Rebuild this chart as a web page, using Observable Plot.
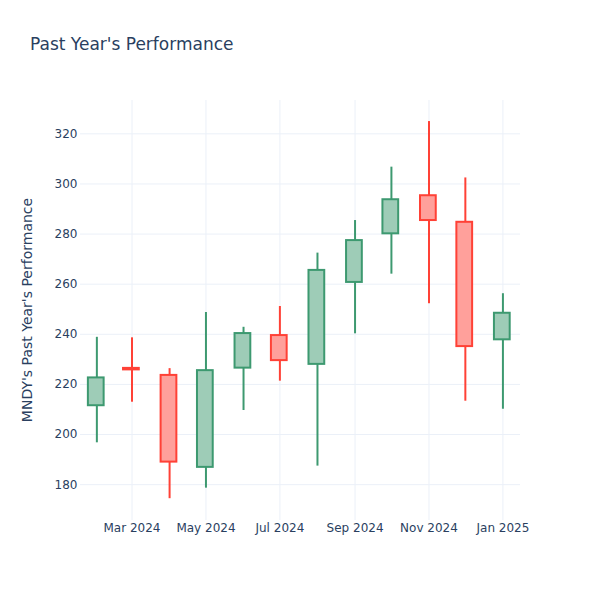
<!DOCTYPE html>
<html>
<head>
<meta charset="utf-8">
<script src="https://cdn.jsdelivr.net/npm/d3@7"></script>
<script src="https://cdn.jsdelivr.net/npm/@observablehq/plot@0.6"></script>
<style>
  body { margin: 0; background: #fff; }
  #chart { width: 600px; height: 600px; }
</style>
</head>
<body>
<div id="chart"></div>
<script>
const months = ["2024-02-01","2024-03-01","2024-04-01","2024-05-01","2024-06-01","2024-07-01",
                "2024-08-01","2024-09-01","2024-10-01","2024-11-01","2024-12-01","2025-01-01"];
const openVals  = [211.5, 226.4, 223.6, 186.9, 226.5, 239.5, 228.0, 260.7, 280.1, 295.3, 284.7, 237.8];
const closeVals = [222.6, 225.8, 189.0, 225.5, 240.3, 229.5, 265.5, 277.4, 293.7, 285.4, 235.1, 248.4];
const highVals  = [238.8, 238.6, 226.3, 248.7, 242.8, 251.1, 272.4, 285.4, 306.7, 324.9, 302.4, 256.2];
const lowVals   = [196.7, 212.9, 174.4, 178.6, 209.6, 221.3, 187.4, 240.2, 264.0, 252.2, 213.3, 210.1];
const yTicks = [180, 200, 220, 240, 260, 280, 300, 320];
const xTickDates = ["2024-03-01","2024-05-01","2024-07-01","2024-09-01","2024-11-01","2025-01-01"];
const xTickLabels = ["Mar 2024","May 2024","Jul 2024","Sep 2024","Nov 2024","Jan 2025"];
const titleText = "Past Year's Performance";
const yTitle = "MNDY's Past Year's Performance";

const data = months.map((m, i) => ({
  date: new Date(m + "T00:00:00Z"),
  open: openVals[i], close: closeVals[i], high: highVals[i], low: lowVals[i]
}));
const up = d => d.close >= d.open;
const lineColor = d => up(d) ? "#3D9970" : "#FF4136";
const fillColor = d => up(d) ? "#9ECCB7" : "#FFA09B";
const tickDates = xTickDates.map(s => new Date(s + "T00:00:00Z"));
const labelOf = new Map(tickDates.map((d, i) => [+d, xTickLabels[i]]));
const halfWidth = 6.2; // days

const grid = "#EBF0F8";
const textColor = "#2a3f5f";

const plot = Plot.plot({
  width: 600,
  height: 600,
  marginLeft: 80,
  marginRight: 80,
  marginTop: 100,
  marginBottom: 80,
  style: { fontFamily: "'DejaVu Sans', sans-serif", fontSize: "12px", color: textColor, background: "#fff" },
  x: { type: "utc", domain: [new Date("2024-01-18T12:00:00Z"), new Date("2025-01-15T12:00:00Z")] },
  y: { domain: [165.7, 333.3] },
  marks: [
    Plot.gridX(tickDates, { stroke: grid, strokeOpacity: 1, strokeWidth: 1 }),
    Plot.gridY(yTicks, { stroke: grid, strokeOpacity: 1, strokeWidth: 1 }),
    Plot.axisY(yTicks, { tickSize: 0, tickPadding: 3, label: null, fill: textColor, fontSize: 12 }),
    Plot.axisX(tickDates, { tickSize: 0, tickPadding: 3, label: null, fill: textColor, fontSize: 12,
      tickFormat: d => labelOf.get(+d) }),
    Plot.ruleX(data, { x: "date", y1: "low", y2: d => Math.min(d.open, d.close), stroke: lineColor, strokeWidth: 2 }),
    Plot.ruleX(data, { x: "date", y1: d => Math.max(d.open, d.close), y2: "high", stroke: lineColor, strokeWidth: 2 }),
    Plot.rect(data, {
      x1: d => d3.utcDay.offset(d.date, -halfWidth),
      x2: d => d3.utcDay.offset(d.date, halfWidth),
      y1: "open", y2: "close",
      fill: fillColor, stroke: lineColor, strokeWidth: 2
    })
  ]
});

const svg = d3.select(plot);
svg.append("text")
  .attr("x", 30).attr("y", 50)
  .attr("text-anchor", "start")
  .attr("fill", textColor)
  .attr("font-size", 17)
  .attr("font-family", "'DejaVu Sans', sans-serif")
  .text(titleText);
svg.append("text")
  .attr("transform", "translate(32,310) rotate(-90)")
  .attr("text-anchor", "middle")
  .attr("fill", textColor)
  .attr("font-size", 14)
  .attr("font-family", "'DejaVu Sans', sans-serif")
  .text(yTitle);

document.getElementById("chart").appendChild(plot);
</script>
</body>
</html>
